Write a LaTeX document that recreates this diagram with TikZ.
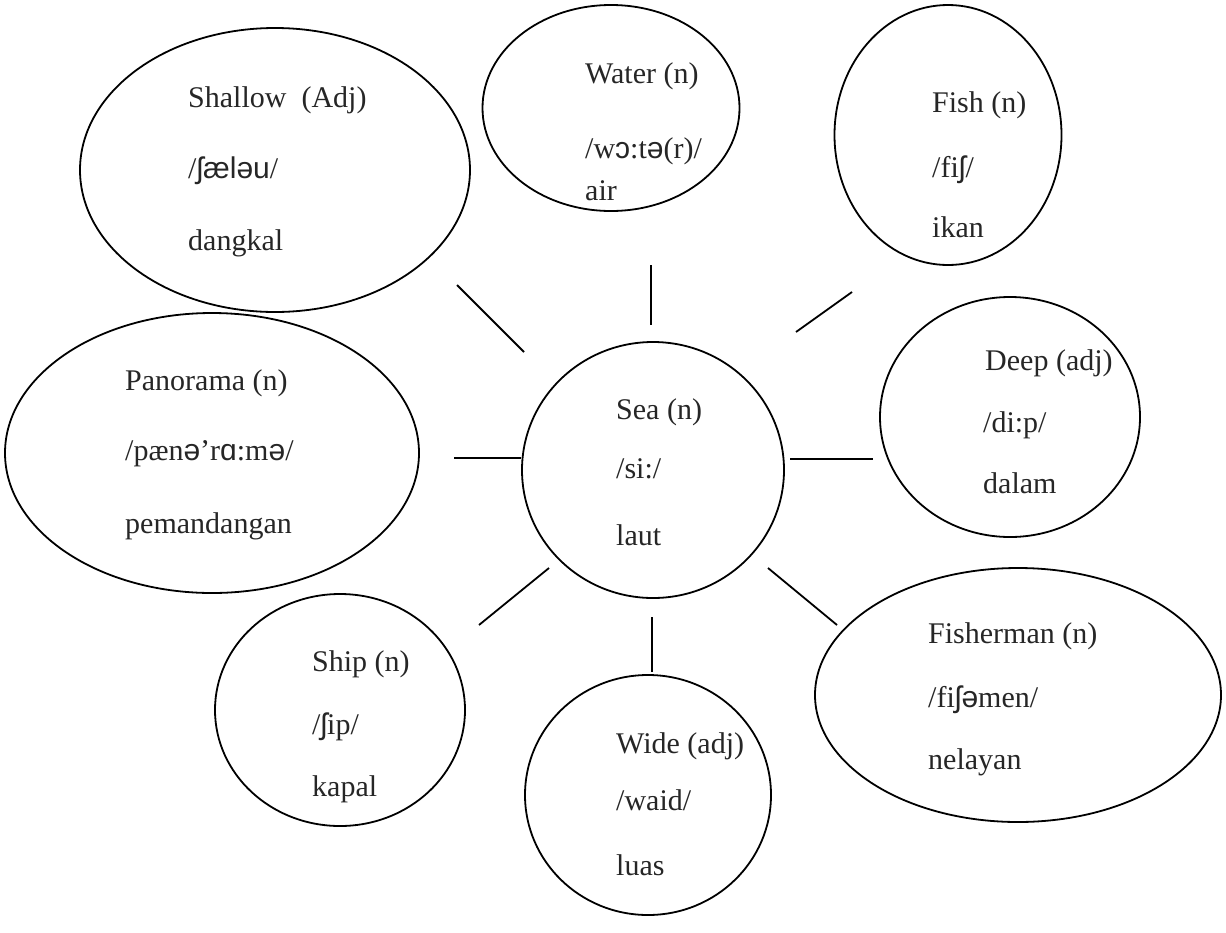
\documentclass[tikz,border=0pt]{standalone}
\usepackage{fontspec}
\setmainfont{Liberation Serif}
\newfontfamily\ipa{Liberation Sans}
\usetikzlibrary{shapes.geometric}
\begin{document}
\begin{tikzpicture}[x=1pt,y=-1pt,
  bubble/.style={draw=black, line width=1.8pt, ellipse, inner sep=0pt},
  word/.style={anchor=base west, inner sep=0pt, font=\fontsize{30}{36}\selectfont, text=black!85},
  link/.style={draw=black, line width=1.8pt}]
\useasboundingbox (0,0) rectangle (1226,932);
% ellipses
\node[bubble, minimum width=390pt, minimum height=284pt] (shallow) at (275,170) {};
\node[bubble, minimum width=257pt, minimum height=206pt] (water) at (611,108) {};
\node[bubble, minimum width=227pt, minimum height=260pt] (fish) at (948,135) {};
\node[bubble, minimum width=260pt, minimum height=240pt] (deep) at (1010,417) {};
\node[bubble, minimum width=414pt, minimum height=280pt] (panorama) at (212,453) {};
\node[bubble, minimum width=262pt, minimum height=256pt] (sea) at (653,470) {};
\node[bubble, minimum width=250pt, minimum height=232pt] (ship) at (340,710) {};
\node[bubble, minimum width=246pt, minimum height=240pt] (wide) at (648,795) {};
\node[bubble, minimum width=406pt, minimum height=254pt] (fisherman) at (1018,695) {};
% texts
\node[word] (shallowA) at (188,107) {Shallow\ \ (Adj)};
\node[word] (shallowB) at (188,178) {/{\ipa ʃæləu}/};
\node[word] (shallowC) at (188,250) {dangkal};
\node[word] (waterA) at (585,83) {Water (n)};
\node[word] (waterB) at (585,158) {/w{\ipa ɔ}:t{\ipa ə}(r)/};
\node[word] (waterC) at (585,200) {air};
\node[word] (fishA) at (932,112) {Fish (n)};
\node[word] (fishB) at (932,177) {/fi{\ipa ʃ}/};
\node[word] (fishC) at (932,237) {ikan};
\node[word] (panoramaA) at (125,390) {Panorama (n)};
\node[word] (panoramaB) at (125,460) {/pæn{\ipa ə}’r{\ipa ɑ}:m{\ipa ə}/};
\node[word] (panoramaC) at (125,533) {pemandangan};
\node[word] (seaA) at (616,419) {Sea (n)};
\node[word] (seaB) at (616,478) {/si:/};
\node[word] (seaC) at (616,545) {laut};
\node[word] (deepA) at (985,370) {Deep (adj)};
\node[word] (deepB) at (983,432) {/di:p/};
\node[word] (deepC) at (983,493) {dalam};
\node[word] (shipA) at (312,671) {Ship (n)};
\node[word] (shipB) at (312,734) {/{\ipa ʃ}ip/};
\node[word] (shipC) at (312,796) {kapal};
\node[word] (wideA) at (616,753) {Wide (adj)};
\node[word] (wideB) at (616,810) {/waid/};
\node[word] (wideC) at (616,875) {luas};
\node[word] (fishermanA) at (928,643) {Fisherman (n)};
\node[word] (fishermanB) at (928,707) {/fi{\ipa ʃə}men/};
\node[word] (fishermanC) at (928,769) {nelayan};
% connector ends
\coordinate (l1a) at (457,285); \coordinate (l1b) at (524,352);
\coordinate (l2a) at (651,265); \coordinate (l2b) at (651,325);
\coordinate (l3a) at (852,292); \coordinate (l3b) at (796,332);
\coordinate (l4a) at (790,459); \coordinate (l4b) at (873,459);
\coordinate (l5a) at (454,458); \coordinate (l5b) at (521,458);
\coordinate (l6a) at (479,625); \coordinate (l6b) at (549,568);
\coordinate (l7a) at (652,617); \coordinate (l7b) at (652,672);
\coordinate (l8a) at (768,568); \coordinate (l8b) at (837,625);
\draw[link] (l1a) -- (l1b);
\draw[link] (l2a) -- (l2b);
\draw[link] (l3a) -- (l3b);
\draw[link] (l4a) -- (l4b);
\draw[link] (l5a) -- (l5b);
\draw[link] (l6a) -- (l6b);
\draw[link] (l7a) -- (l7b);
\draw[link] (l8a) -- (l8b);
\end{tikzpicture}
\end{document}
